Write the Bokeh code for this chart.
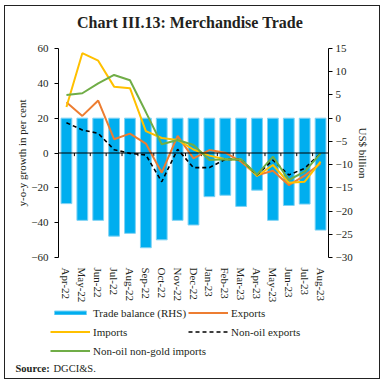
import numpy as np
from bokeh.plotting import figure
from bokeh.layouts import column
from bokeh.models import (Range1d, LinearAxis, FixedTicker, Legend, LegendItem, Label, Span)
from bokeh.embed import file_html
from bokeh.resources import INLINE

months = ["Apr-22", "May-22", "Jun-22", "Jul-22", "Aug-22", "Sep-22", "Oct-22", "Nov-22",
          "Dec-22", "Jan-23", "Feb-23", "Mar-23", "Apr-23", "May-23", "Jun-23", "Jul-23", "Aug-23"]
trade_balance = [-18.4, -22.0, -22.0, -25.4, -24.8, -27.9, -26.2, -22.0, -23.0,
                 -16.9, -16.6, -19.0, -15.5, -22.0, -18.8, -18.5, -24.1]
exports = [29.1, 21.3, 30.1, 7.9, 11.1, 5.4, -11.3, 9.8, -3.1,
           1.7, 0.2, -5.0, -12.8, -10.2, -18.4, -13.0, -6.0]
imports = [26.4, 57.3, 53.0, 38.1, 37.2, 12.6, 8.6, 7.5, 2.0,
           -1.5, -3.6, -3.8, -13.2, -6.9, -17.1, -16.5, -5.0]
non_oil_exports = [17.4, 13.2, 11.3, 1.9, -0.2, -1.1, -16.5, 2.1, -8.4,
                   -8.4, -3.6, -3.8, -12.6, -4.0, -12.6, -8.8, -0.2]
non_oil_non_gold_imports = [33.3, 34.3, 40.0, 44.8, 41.8, 23.5, 5.0, 7.5, 4.6,
                            -4.0, -3.6, -3.8, -12.4, -2.1, -15.5, -10.7, -0.2]
left_ticks = [-60, -40, -20, 0, 20, 40, 60]
right_ticks = [-30, -25, -20, -15, -10, -5, 0, 5, 10, 15]
title_text = "Chart III.13: Merchandise Trade"

SERIF = "Liberation Serif"
TXT = "#231f20"
C_BAR, C_EXP, C_IMP, C_NOE, C_NNG = "#00AEEF", "#ED7D31", "#FFC000", "black", "#70AD47"
x = np.arange(len(months))
W = 374


def blank_figure(h):
    fig = figure(width=W, height=h, output_backend="svg", toolbar_location=None,
                 x_range=Range1d(0, W), y_range=Range1d(h, 0),
                 x_axis_location=None, y_axis_location=None,
                 min_border=0, min_border_left=0, min_border_right=0,
                 min_border_top=0, min_border_bottom=0)
    fig.frame_align = False
    fig.xgrid.visible = False
    fig.ygrid.visible = False
    fig.outline_line_color = None
    return fig


# ---------------- header: title ----------------
hh = 34
h = blank_figure(hh)
h.add_layout(Label(x=184.5, y=16, text=title_text, text_font=SERIF, text_font_size="16px",
                   text_font_style="bold", text_align="center", text_baseline="middle",
                   text_color=TXT))

# ---------------- main chart ----------------
p = figure(width=W, height=265, frame_width=270, frame_height=209,
           output_backend="svg", toolbar_location=None,
           x_range=Range1d(-0.5, len(months) - 0.5), y_range=Range1d(left_ticks[0], left_ticks[-1]),
           min_border_left=53, min_border_right=51, min_border_top=8, min_border_bottom=48)
p.frame_align = False
p.extra_y_ranges = {"rhs": Range1d(right_ticks[0], right_ticks[-1])}
p.outline_line_color = None
p.xgrid.visible = False
p.ygrid.visible = False

bars = p.vbar(x=x, top=trade_balance, bottom=0, width=0.68, y_range_name="rhs",
              fill_color=C_BAR, line_color="#7fd2f4", line_width=1)

# zero line with small ticks between months
p.add_layout(Span(location=0, dimension="width", line_color="black", line_width=1))
tick_x = x[:-1] + 0.5
p.segment(x0=tick_x, y0=np.zeros(len(tick_x)), x1=tick_x, y1=np.full(len(tick_x), -1.8),
          line_color="black", line_width=1)

p.line(x, exports, line_color=C_EXP, line_width=2)
p.line(x, imports, line_color=C_IMP, line_width=2)
p.line(x, non_oil_exports, line_color=C_NOE, line_width=1.6, line_dash="4 3")
p.line(x, non_oil_non_gold_imports, line_color=C_NNG, line_width=2)

xa = p.xaxis[0]
xa.ticker = FixedTicker(ticks=list(x))
xa.major_label_overrides = {int(i): m for i, m in zip(x, months)}
xa.major_label_orientation = "vertical"
xa.axis_line_color = None
xa.major_tick_line_color = None
xa.minor_tick_line_color = None
xa.major_label_text_font = SERIF
xa.major_label_text_font_size = "11px"
xa.major_label_text_color = TXT
xa.major_label_standoff = 4

ya = p.yaxis[0]
ya.ticker = FixedTicker(ticks=left_ticks)
ya.axis_label = "y-o-y growth in per cent"
ya.axis_label_text_font = SERIF
ya.axis_label_text_font_style = "normal"
ya.axis_label_text_font_size = "11px"
ya.axis_label_text_color = TXT
ya.major_label_text_font = SERIF
ya.major_label_text_font_size = "11px"
ya.major_label_text_color = TXT
ya.major_label_standoff = 6
ya.major_tick_in = 0
ya.major_tick_out = 4
ya.minor_tick_line_color = None
ya.axis_label_standoff = 0

ra = LinearAxis(y_range_name="rhs", ticker=FixedTicker(ticks=right_ticks),
                axis_label="US$ billion")
ra.axis_label_text_font = SERIF
ra.axis_label_text_font_style = "normal"
ra.axis_label_text_font_size = "11px"
ra.axis_label_text_color = TXT
ra.major_label_text_font = SERIF
ra.major_label_text_font_size = "11px"
ra.major_label_text_color = TXT
ra.major_label_standoff = 3
ra.major_tick_in = 0
ra.major_tick_out = 4
ra.minor_tick_line_color = None
ra.axis_label_standoff = 1
p.add_layout(ra, "right")

# ---------------- footer: legend + source ----------------
fh = 73
f = blank_figure(fh)

nan1 = [np.nan]
g_bar = f.vbar(x=nan1, top=nan1, width=1, fill_color=C_BAR, line_color="#7fd2f4")
g_exp = f.line(nan1, nan1, line_color=C_EXP, line_width=2)
g_imp = f.line(nan1, nan1, line_color=C_IMP, line_width=2)
g_noe = f.line(nan1, nan1, line_color=C_NOE, line_width=1.6, line_dash="4 3")
g_nng = f.line(nan1, nan1, line_color=C_NNG, line_width=2)


def make_legend(items, loc):
    lg = Legend(items=items, location=loc, orientation="vertical")
    lg.label_text_font = SERIF
    lg.label_text_font_size = "11px"
    lg.label_text_color = TXT
    lg.glyph_width = 40
    lg.glyph_height = 5
    lg.label_height = 15
    lg.label_standoff = 3
    lg.spacing = 4
    lg.padding = 0
    lg.margin = 0
    lg.border_line_color = None
    lg.background_fill_alpha = 0
    return lg


leg1 = make_legend([LegendItem(label="Trade balance (RHS)", renderers=[g_bar]),
                    LegendItem(label="Imports", renderers=[g_imp]),
                    LegendItem(label="Non-oil non-gold imports", renderers=[g_nng])], (45, 20))
leg2 = make_legend([LegendItem(label="Exports", renderers=[g_exp]),
                    LegendItem(label="Non-oil exports", renderers=[g_noe])], (183, 39))
f.add_layout(leg1, "center")
f.add_layout(leg2, "center")

f.add_layout(Label(x=10, y=63, text="Source:", text_font=SERIF, text_font_size="10.5px",
                   text_font_style="bold", text_baseline="middle", text_color=TXT))
f.add_layout(Label(x=48, y=63, text="DGCI&S.", text_font=SERIF, text_font_size="10.5px",
                   text_baseline="middle", text_color=TXT))

root = column(h, p, f, spacing=0, margin=(5, 0, 0, 4), styles={"border": "1px solid #222"})

open("out.html", "w").write(file_html(root, INLINE))
